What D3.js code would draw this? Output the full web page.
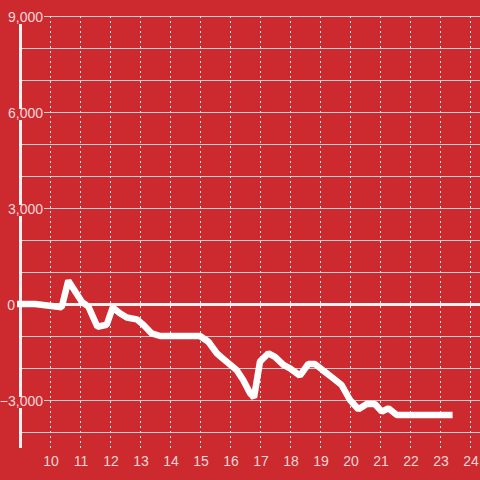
<!DOCTYPE html>
<html>
<head>
<meta charset="utf-8">
<script src="https://cdn.jsdelivr.net/npm/d3@7"></script>
<style>
  html, body { margin: 0; padding: 0; background: #cc2a2f; }
  svg { display: block; }
</style>
</head>
<body>
<div id="chart"></div>
<script>
// Hours of day (x) and values (y)
const hours = [8.9, 9.5, 10.39, 10.61, 11.06, 11.28, 11.58, 11.89, 12.09, 12.33, 12.56, 12.89, 13.11, 13.39, 13.67, 15.0, 15.28, 15.56, 15.72, 16.22, 16.44, 16.67, 16.8, 17.0, 17.28, 17.5, 17.78, 18.0, 18.33, 18.61, 18.83, 19.11, 19.44, 19.72, 20.0, 20.28, 20.56, 20.83, 21.06, 21.28, 21.56, 23.42];
const values = [0, 0, -100, 730, 70, -80, -710, -650, -110, -290, -420, -480, -650, -920, -1000, -1000, -1180, -1540, -1670, -2060, -2375, -2790, -2920, -1800, -1540, -1650, -1900, -2010, -2240, -1875, -1875, -2080, -2320, -2530, -3000, -3290, -3125, -3125, -3365, -3260, -3470, -3470];
const xTicks = [10, 11, 12, 13, 14, 15, 16, 17, 18, 19, 20, 21, 22, 23, 24];
const yLabelTicks = [9000, 6000, 3000, 0, -3000];
const yGridTicks = [9000, 8000, 7000, 6000, 5000, 4000, 3000, 2000, 1000, 0, -1000, -2000, -3000, -4000];

const W = 480, H = 480;
const bg = "#cc2a2f";
const svg = d3.select("#chart").append("svg").attr("width", W).attr("height", H);
svg.append("rect").attr("width", W).attr("height", H).attr("fill", bg);

const x = d3.scaleLinear().domain([9, 24]).range([20, 470]);
const y = d3.scaleLinear().domain([-4500, 9000]).range([448, 16]);

// horizontal gridlines
svg.append("g").selectAll("line").data(yGridTicks.filter(d => d !== 0)).join("line")
  .attr("x1", 20).attr("x2", W)
  .attr("y1", d => Math.round(y(d)) + 0.5).attr("y2", d => Math.round(y(d)) + 0.5)
  .attr("stroke", "#cfcfcf").attr("stroke-width", 1);

// vertical dotted gridlines
svg.append("g").selectAll("line").data(xTicks).join("line")
  .attr("x1", d => Math.round(x(d)) + 0.5).attr("x2", d => Math.round(x(d)) + 0.5)
  .attr("y1", y(9000)).attr("y2", y(-4500))
  .attr("stroke", "#e6e6e6").attr("stroke-width", 1).attr("stroke-dasharray", "2,3");

// zero line
svg.append("line")
  .attr("x1", 20).attr("x2", W)
  .attr("y1", y(0) + 0.5).attr("y2", y(0) + 0.5)
  .attr("stroke", "#f2f2f2").attr("stroke-width", 3);

// y axis line
svg.append("line")
  .attr("x1", 20.5).attr("x2", 20.5)
  .attr("y1", y(9000)).attr("y2", y(-4500))
  .attr("stroke", "#f2f2f2").attr("stroke-width", 3);

// y labels
const fmt = d3.format(",");
const yl = svg.append("g").selectAll("g").data(yLabelTicks).join("g");
yl.filter(d => d !== 0).append("rect")
  .attr("x", 1).attr("width", 43)
  .attr("y", d => y(d) - 3).attr("height", 11)
  .attr("fill", bg);
yl.append("text")
  .attr("x", d => d === 0 ? 15 : 43)
  .attr("y", d => y(d) + 5.5)
  .attr("text-anchor", "end")
  .attr("font-family", "Liberation Sans, Arial, sans-serif")
  .attr("font-size", 14)
  .attr("fill", "#ffffff").attr("fill-opacity", 0.82)
  .text(d => fmt(d));

// x labels
svg.append("g").selectAll("text").data(xTicks).join("text")
  .attr("x", d => x(d) + 1)
  .attr("y", 466)
  .attr("text-anchor", "middle")
  .attr("font-family", "Liberation Sans, Arial, sans-serif")
  .attr("font-size", 14)
  .attr("fill", "#ffffff").attr("fill-opacity", 0.82)
  .text(d => d);

// data line
const pts = hours.map((h, i) => [h, values[i]]);
svg.append("path")
  .datum(pts)
  .attr("d", d3.line().x(d => x(d[0])).y(d => y(d[1])))
  .attr("fill", "none")
  .attr("stroke", "#ffffff")
  .attr("stroke-width", 6.5)
  .attr("stroke-linejoin", "bevel")
  .attr("stroke-linecap", "butt");
</script>
</body>
</html>
